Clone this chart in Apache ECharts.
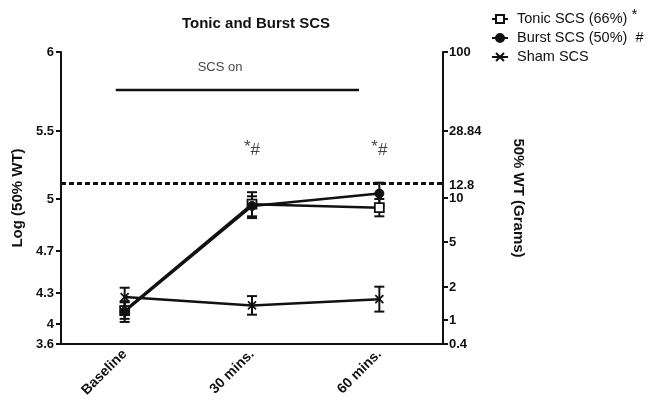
<!DOCTYPE html>
<html><head><meta charset="utf-8">
<script src="https://cdn.jsdelivr.net/npm/echarts@6/dist/echarts.min.js"></script>
<style>html,body{margin:0;padding:0;background:#fff}#c{width:648px;height:409px}</style>
</head><body><div id="c"></div>
<script>
// ---- data ----
const categories = ['Baseline', '30 mins.', '60 mins.'];
const tonicMean = [4.13, 4.97, 4.95];
const tonicErr  = [0.08, 0.08, 0.05];
const burstMean = [4.12, 4.96, 5.04];
const burstErr  = [0.10, 0.06, 0.08];
const shamMean  = [4.26, 4.18, 4.24];
const shamErr   = [0.09, 0.09, 0.12];
const leftTicks  = [3.6, 4, 4.3, 4.7, 5, 5.5, 6];
const rightTicks = ['0.4', '1', '2', '5', '10', '12.8', '28.84', '100'];
const thresholdLog = 5.107;           // log of 12.8 g cut-off
const scsOnLevel = 5.76;
const scsOnSpan = [-0.07, 1.84];
const scsOnLabelLevel = 5.905;
const sigLabels = ['', '*#', '*#'];
const sigLevel = 5.36;

// ---- layout of the (segmented) axes: tick fractions of plot height ----
const leftTickFrac  = [0, 0.0685, 0.1747, 0.3185, 0.4966, 0.7295, 1];
const rightTickFrac = [0, 0.082, 0.195, 0.349, 0.5, 0.5445, 0.7295, 1];
const rightTickMarks = [0, 0.082, 0.195, 0.349, 0.5, 0.7295, 1];

function warp(v) {
  for (let i = 0; i < leftTicks.length - 1; i++) {
    if (v <= leftTicks[i + 1] || i === leftTicks.length - 2) {
      const t = (v - leftTicks[i]) / (leftTicks[i + 1] - leftTicks[i]);
      return leftTickFrac[i] + t * (leftTickFrac[i + 1] - leftTickFrac[i]);
    }
  }
}
function nearestLabel(v, fr, labels) {
  let b = 0;
  for (let i = 1; i < fr.length; i++) if (Math.abs(fr[i] - v) < Math.abs(fr[b] - v)) b = i;
  return String(labels[b]);
}

const FONT = 'Liberation Sans, Arial, Helvetica, sans-serif';
const INK = '#111';

function errData(means, errs) {
  return means.map((m, i) => [i, warp(m - errs[i]), warp(m + errs[i])]);
}
const errAll = [].concat(errData(tonicMean, tonicErr), errData(burstMean, burstErr), errData(shamMean, shamErr));

const chart = echarts.init(document.getElementById('c'), null, {renderer: 'canvas'});
chart.setOption({
  animation: false,
  backgroundColor: '#fff',
  textStyle: {fontFamily: FONT},
  title: {
    text: 'Tonic and Burst SCS', left: 177, top: 11,
    textStyle: {fontFamily: FONT, fontWeight: 'bold', fontSize: 15, color: INK}
  },
  legend: {
    data: ['Tonic SCS (66%)', 'Burst SCS (50%)', 'Sham SCS'],
    orient: 'vertical', left: 486, top: 2, itemWidth: 16, itemHeight: 10, itemGap: 4,
    formatter: n => n === 'Tonic SCS (66%)' ? n + ' {s|*}' : (n === 'Burst SCS (50%)' ? n + '  #' : n),
    textStyle: {fontFamily: FONT, fontSize: 14.5, color: INK, padding: [0, 0, 0, 4],
      rich: {s: {fontFamily: FONT, fontSize: 15, color: INK, padding: [0, 0, 9, 0]}}}
  },
  grid: {left: 61, right: 205, top: 52, bottom: 65},
  xAxis: [
    {type: 'category', data: categories, boundaryGap: true,
     axisLine: {onZero: false, lineStyle: {color: INK, width: 2}},
     axisTick: {alignWithLabel: true, length: 6, lineStyle: {color: INK, width: 2}},
     axisLabel: {rotate: 45, fontFamily: FONT, fontWeight: 'bold', fontSize: 14, color: INK, margin: 8}},
    {type: 'value', min: -0.5, max: 2.5, show: false}
  ],
  yAxis: [
    {type: 'value', min: 0, max: 1, position: 'left',
     name: 'Log (50% WT)', nameLocation: 'middle', nameGap: 32, nameRotate: 90,
     nameTextStyle: {fontFamily: FONT, fontWeight: 'bold', fontSize: 15, color: INK},
     axisLine: {show: true, onZero: false, lineStyle: {color: INK, width: 2}},
     axisTick: {show: true, length: 5, lineStyle: {color: INK, width: 2}, customValues: leftTickFrac},
     axisLabel: {customValues: leftTickFrac, formatter: v => nearestLabel(v, leftTickFrac, leftTicks),
       fontFamily: FONT, fontWeight: 'bold', fontSize: 13, color: INK, margin: 7},
     splitLine: {show: false}},
    {type: 'value', min: 0, max: 1, position: 'right',
     name: '50% WT (Grams)', nameLocation: 'middle', nameGap: 68, nameRotate: -90,
     nameTextStyle: {fontFamily: FONT, fontWeight: 'bold', fontSize: 15, color: INK},
     axisLine: {show: true, onZero: false, lineStyle: {color: INK, width: 2}},
     axisTick: {show: true, length: 5, lineStyle: {color: INK, width: 2}, customValues: rightTickMarks},
     axisLabel: {customValues: rightTickFrac, formatter: v => nearestLabel(v, rightTickFrac, rightTicks),
       fontFamily: FONT, fontWeight: 'bold', fontSize: 13, color: INK, margin: 6},
     splitLine: {show: false}}
  ],
  series: [
    {type: 'custom', name: 'err', xAxisIndex: 0, yAxisIndex: 0, z: 1, silent: true,
     data: errAll, encode: {x: 0, y: [1, 2]},
     renderItem: (params, api) => {
       const x = api.value(0);
       const lo = api.coord([x, api.value(1)]);
       const hi = api.coord([x, api.value(2)]);
       const w = 5, st = {stroke: INK, lineWidth: 2};
       return {type: 'group', children: [
         {type: 'line', shape: {x1: lo[0], y1: lo[1], x2: hi[0], y2: hi[1]}, style: st},
         {type: 'line', shape: {x1: lo[0] - w, y1: lo[1], x2: lo[0] + w, y2: lo[1]}, style: st},
         {type: 'line', shape: {x1: hi[0] - w, y1: hi[1], x2: hi[0] + w, y2: hi[1]}, style: st}
       ]};
     }},
    {type: 'line', name: 'Tonic SCS (66%)', data: tonicMean.map(warp), z: 3,
     symbol: 'rect', symbolSize: 9,
     itemStyle: {color: '#fff', borderColor: INK, borderWidth: 1.8},
     lineStyle: {color: INK, width: 2.5},
     markLine: {symbol: 'none', silent: true, label: {show: false},
       lineStyle: {type: [5, 3], width: 3, color: INK},
       data: [{yAxis: warp(thresholdLog)}]}},
    {type: 'line', name: 'Burst SCS (50%)', data: burstMean.map(warp), z: 4,
     symbol: 'circle', symbolSize: 9,
     itemStyle: {color: INK, borderColor: INK, borderWidth: 1},
     lineStyle: {color: INK, width: 2.5}},
    {type: 'line', name: 'Sham SCS', data: shamMean.map(warp), z: 3,
     symbol: 'path://M0,0L10,10M10,0L0,10', symbolSize: 8,
     itemStyle: {color: INK, borderColor: INK, borderWidth: 1.8},
     lineStyle: {color: INK, width: 2.5}},
    {type: 'line', name: 'scs', xAxisIndex: 1, silent: true, symbol: 'none',
     data: [[scsOnSpan[0], warp(scsOnLevel)], [scsOnSpan[1], warp(scsOnLevel)]],
     lineStyle: {color: INK, width: 2.5}},
    {type: 'scatter', name: 'scsLabel', xAxisIndex: 1, silent: true, symbolSize: 0,
     data: [[0.749, warp(scsOnLabelLevel)]],
     label: {show: true, position: 'inside', formatter: 'SCS on', fontFamily: FONT, fontSize: 13, color: INK}},
    {type: 'scatter', name: 'sig', silent: true, symbolSize: 0,
     data: sigLabels.map((s, i) => [i, warp(sigLevel)]).filter((d, i) => sigLabels[i] !== ''),
     label: {show: true, position: 'inside', formatter: p => '{a|*}{b|#}',
       rich: {a: {fontFamily: FONT, fontSize: 17, color: INK, padding: [0, 0, 5, 0]},
              b: {fontFamily: FONT, fontSize: 17, color: INK}}}}
  ]
});
</script></body></html>
